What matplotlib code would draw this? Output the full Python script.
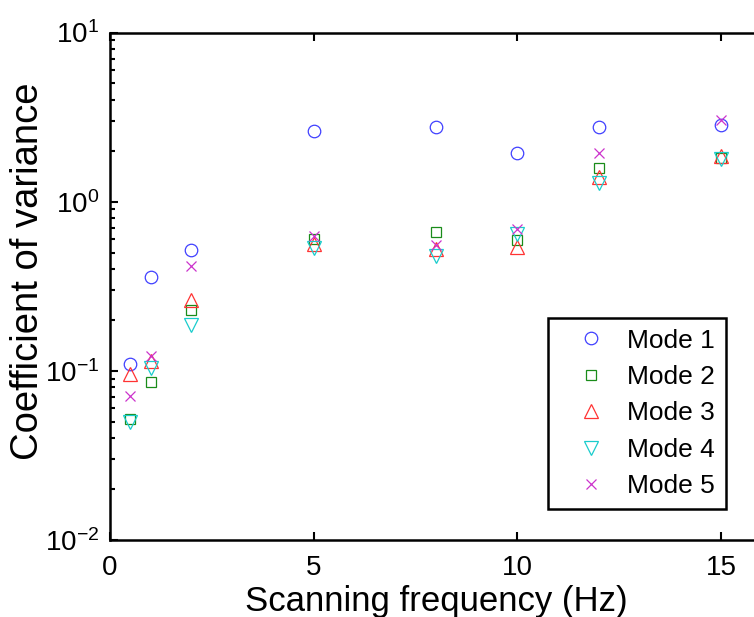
import matplotlib
matplotlib.use('Agg')
import matplotlib.pyplot as plt
from matplotlib.ticker import MultipleLocator, LogLocator, NullFormatter

plt.rcParams['font.family'] = ['Liberation Sans', 'DejaVu Sans']
plt.rcParams['mathtext.fontset'] = 'custom'
plt.rcParams['mathtext.rm'] = 'Liberation Sans'
plt.rcParams['axes.unicode_minus'] = False

# scanning frequency (Hz) and coefficient of variance per mode
freq = [0.5, 1, 2, 5, 8, 10, 12, 15]
mode1 = [0.110, 0.357, 0.515, 2.60, 2.77, 1.93, 2.77, 2.84]
mode2 = [0.052, 0.086, 0.230, 0.60, 0.66, 0.59, 1.58, 1.82]
mode3 = [0.096, 0.115, 0.263, 0.56, 0.527, 0.54, 1.40, 1.87]
mode4 = [0.050, 0.104, 0.187, 0.53, 0.48, 0.64, 1.29, 1.78]
mode5 = [0.071, 0.123, 0.417, 0.63, 0.556, 0.685, 1.95, 3.04]
labels = ['Mode 1', 'Mode 2', 'Mode 3', 'Mode 4', 'Mode 5']

fig = plt.figure(figsize=(7.54, 6.17), dpi=100)
# axes runs off the right edge like the cropped original
ax = fig.add_axes([0.1459, 0.1248, 0.8643, 0.8225])

ax.plot(freq, mode1, 'o', mfc='none', mec=(0.25, 0.25, 1.0), ms=9, mew=0.9, label=labels[0])
ax.plot(freq, mode2, 's', mfc='none', mec=(0.1, 0.55, 0.1), ms=7, mew=0.9, label=labels[1])
ax.plot(freq, mode3, '^', mfc='none', mec=(1.0, 0.2, 0.2), ms=10, mew=0.9, label=labels[2])
ax.plot(freq, mode4, 'v', mfc='none', mec=(0.1, 0.8, 0.8), ms=10, mew=0.9, label=labels[3])
ax.plot(freq, mode5, 'x', color=(0.8, 0.2, 0.8), ms=7, mew=0.9, label=labels[4])

ax.set_yscale('log')
ax.set_ylim(1e-2, 1e1)
ax.set_xlim(0, 16)
ax.xaxis.set_major_locator(MultipleLocator(5))
ax.yaxis.set_major_locator(LogLocator(base=10, numticks=10))
ax.yaxis.set_minor_locator(LogLocator(base=10, subs=range(2, 10), numticks=10))
ax.yaxis.set_minor_formatter(NullFormatter())

for s in ax.spines.values():
    s.set_linewidth(1.8)
ax.tick_params(which='both', direction='in', top=True, right=True, width=1.5)
ax.tick_params(which='major', length=6, labelsize=20, pad=8)
ax.tick_params(axis='x', which='major', pad=11)
ax.tick_params(which='minor', length=3.5)

ax.set_xlabel('Scanning frequency (Hz)', fontsize=25, labelpad=3)
ax.set_ylabel('Coefficient of variance', fontsize=27.5)
ax.yaxis.set_label_coords(-0.098, 0.53)

leg = ax.legend(loc='upper left', bbox_to_anchor=(0.7268, 0.4846), bbox_transform=fig.transFigure,
                borderaxespad=0, fontsize=19, numpoints=1, fancybox=False, framealpha=1,
                edgecolor='black', borderpad=0.4, handlelength=2.45, handletextpad=0.15,
                labelspacing=0.47)
leg.get_frame().set_linewidth(1.8)

plt.savefig('out.png', dpi=100)
